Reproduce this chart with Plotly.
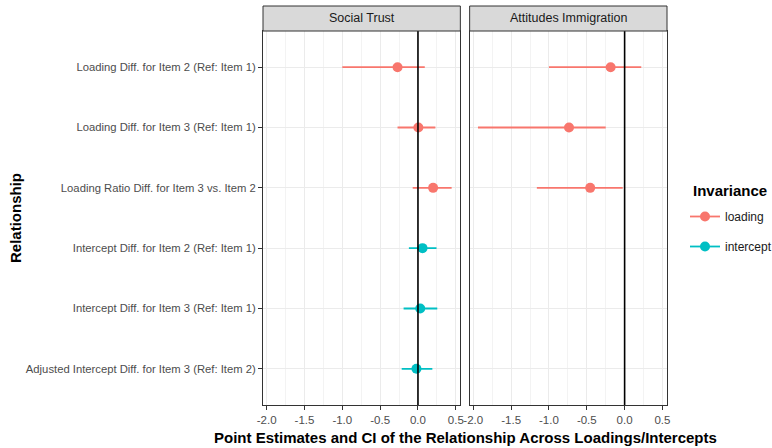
import plotly.graph_objects as go

# Relationship labels, top to bottom
relationships = [
    "Loading Diff. for Item 2 (Ref: Item 1)",
    "Loading Diff. for Item 3 (Ref: Item 1)",
    "Loading Ratio Diff. for Item 3 vs. Item 2",
    "Intercept Diff. for Item 2 (Ref: Item 1)",
    "Intercept Diff. for Item 3 (Ref: Item 1)",
    "Adjusted Intercept Diff. for Item 3 (Ref: Item 2)",
]
loading_rel = relationships[:3]
intercept_rel = relationships[3:]

# Social Trust
st_loading_est = [-0.27, 0.005, 0.20]
st_loading_lo = [-1.00, -0.27, -0.07]
st_loading_hi = [0.09, 0.23, 0.445]
st_intercept_est = [0.06, 0.03, -0.02]
st_intercept_lo = [-0.12, -0.19, -0.215]
st_intercept_hi = [0.245, 0.255, 0.19]

# Attitudes Immigration
ai_loading_est = [-0.185, -0.735, -0.455]
ai_loading_lo = [-1.00, -1.938, -1.16]
ai_loading_hi = [0.22, -0.25, -0.025]

panel_titles = ["Social Trust", "Attitudes Immigration"]
x_tickvals = [-2.0, -1.5, -1.0, -0.5, 0.0, 0.5]
x_ticktext = ["-2.0", "-1.5", "-1.0", "-0.5", "0.0", "0.5"]

C_LOAD = "#F8766D"
C_INT = "#00BFC4"
FONT = "Liberation Sans, Arial, sans-serif"


def ci_trace(est, lo, hi, cats, color, xa, ya):
    return go.Scatter(
        x=est, y=cats, xaxis=xa, yaxis=ya, mode="markers",
        marker=dict(color=color, size=10),
        error_x=dict(type="data", symmetric=False,
                     array=[h - e for h, e in zip(hi, est)],
                     arrayminus=[e - l for e, l in zip(est, lo)],
                     color=color, thickness=1.8, width=0),
        showlegend=False, hoverinfo="x+y",
    )


fig = go.Figure()
fig.add_trace(ci_trace(st_loading_est, st_loading_lo, st_loading_hi, loading_rel, C_LOAD, "x", "y"))
fig.add_trace(ci_trace(st_intercept_est, st_intercept_lo, st_intercept_hi, intercept_rel, C_INT, "x", "y"))
fig.add_trace(ci_trace(ai_loading_est, ai_loading_lo, ai_loading_hi, loading_rel, C_LOAD, "x2", "y2"))

# legend keys (point over line)
for name, color in [("loading", C_LOAD), ("intercept", C_INT)]:
    fig.add_trace(go.Scatter(x=[None], y=[None], mode="lines+markers", name=name,
                             legendgroup=name,
                             line=dict(color=color, width=1.8),
                             marker=dict(color=color, size=10)))

W, H = 772, 448
ml, mr, mt, mb = 263, 105, 6, 43
ph = H - mt - mb
panel_top = (ph - 25) / ph
pw = W - ml - mr
gap = 9.3 / pw
half = (1 - gap) / 2

xcommon = dict(
    range=[-2.048, 0.560], tickvals=x_tickvals, ticktext=x_ticktext,
    ticks="outside", ticklen=4, tickcolor="#333333", tickwidth=1,
    tickfont=dict(size=11.5, color="#4D4D4D", family=FONT),
    showgrid=True, gridcolor="#EBEBEB", gridwidth=1,
    minor=dict(dtick=0.25, tick0=0, showgrid=True, gridcolor="#F3F3F3", gridwidth=0.6),
    showline=True, linecolor="#333333", linewidth=1, mirror=True,
    zeroline=False, fixedrange=True,
)
ycommon = dict(
    type="category", categoryarray=relationships, range=[5.6, -0.6], autorange=False,
    showgrid=True, gridcolor="#EBEBEB", gridwidth=1,
    showline=True, linecolor="#333333", linewidth=1, mirror=True,
    zeroline=False, domain=[0, panel_top], fixedrange=True,
)

fig.update_layout(
    width=W, height=H,
    margin=dict(l=ml, r=mr, t=mt, b=mb, autoexpand=False),
    paper_bgcolor="white", plot_bgcolor="white",
    font=dict(family=FONT, color="#1A1A1A"),
    xaxis=dict(domain=[0, half], anchor="y", **xcommon),
    xaxis2=dict(domain=[1 - half, 1], anchor="y2", **xcommon),
    yaxis=dict(anchor="x", ticks="outside", ticklen=4, tickcolor="#333333",
               tickfont=dict(size=11.25, color="#4D4D4D", family=FONT), **ycommon),
    yaxis2=dict(anchor="x2", matches="y", showticklabels=False, ticks="", **ycommon),
    legend=dict(
        xref="container", yref="container",
        x=685 / W, xanchor="left", y=1 - 231.5 / H, yanchor="middle",
        font=dict(size=12, color="#1A1A1A", family=FONT),
        tracegroupgap=11, itemwidth=30, bgcolor="rgba(0,0,0,0)",
    ),
    showlegend=True,
)

# zero reference lines and facet strips
for xa, title in zip(["x", "x2"], panel_titles):
    fig.add_shape(type="line", xref=xa, yref=f"{'y' if xa == 'x' else 'y2'} domain",
                  x0=0, x1=0, y0=0, y1=1, line=dict(color="#000000", width=1.6), layer="above")
    fig.add_shape(type="rect", xref=f"{xa} domain", yref="paper", x0=0, x1=1,
                  y0=panel_top, y1=1, fillcolor="#D9D9D9", line=dict(color="#333333", width=1))
    fig.add_annotation(text=title, xref=f"{xa} domain", yref="paper", x=0.5,
                       y=(panel_top + 1) / 2, yanchor="middle", xanchor="center", showarrow=False,
                       font=dict(size=12.5, color="#1A1A1A", family=FONT))

# legend title
fig.add_annotation(text="<b>Invariance</b>", xref="paper", yref="paper",
                   x=(691 - ml) / pw, xanchor="left", y=(H - mb - 190) / ph, yanchor="middle",
                   showarrow=False, font=dict(size=15, color="#000000", family=FONT))

fig.add_annotation(text="<b>Point Estimates and CI of the Relationship Across Loadings/Intercepts</b>",
                   xref="paper", yref="paper", x=0.5, y=-32 / ph, yanchor="middle",
                   showarrow=False, font=dict(size=15, color="#000000", family=FONT))
fig.add_annotation(text="<b>Relationship</b>", xref="paper", yref="paper",
                   x=-(ml - 15) / pw, xanchor="center", y=(panel_top) / 2, yanchor="middle",
                   textangle=-90, showarrow=False, font=dict(size=15, color="#000000", family=FONT))

fig.write_html("out.html")
